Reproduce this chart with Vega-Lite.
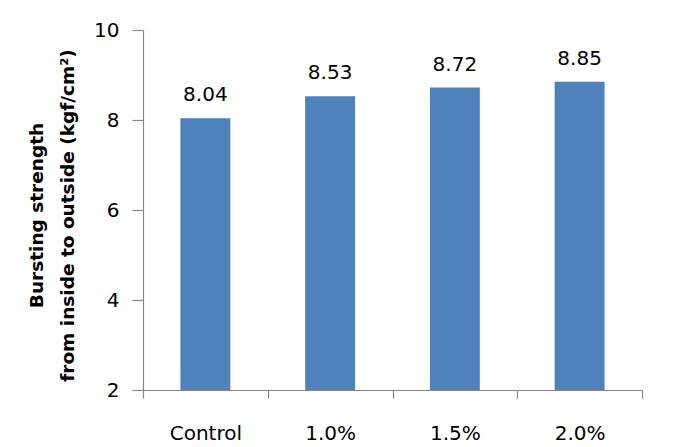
{
  "$schema": "https://vega.github.io/schema/vega-lite/v6.json",
  "width": 499,
  "height": 360,
  "autosize": "none",
  "padding": {"left": 143, "top": 30, "right": 44, "bottom": 57},
  "background": "white",
  "config": {"view": {"stroke": null}, "font": "DejaVu Sans"},
  "data": {"values": [
    {"group": "Control", "value": 8.04},
    {"group": "1.0%", "value": 8.53},
    {"group": "1.5%", "value": 8.72},
    {"group": "2.0%", "value": 8.85}
  ]},
  "encoding": {
    "x": {"field": "group", "type": "nominal", "sort": null,
      "scale": {"paddingInner": 0, "paddingOuter": 0},
      "axis": {"title": null, "labelAngle": 0, "labelFontSize": 20, "labelColor": "#000000",
        "labelPadding": 25, "domainColor": "#868686", "tickColor": "#868686", "tickSize": 8,
        "tickBand": "extent", "domainWidth": 1.2, "tickWidth": 1.2}},
    "y": {"field": "value", "type": "quantitative",
      "scale": {"domain": [2, 10], "nice": false, "zero": false},
      "axis": {"values": [2, 4, 6, 8, 10], "grid": false, "labelFontSize": 20, "labelColor": "#000000",
        "labelPadding": 13, "domainColor": "#868686", "tickColor": "#868686", "tickSize": 11,
        "domainWidth": 1.2, "tickWidth": 1.2,
        "title": ["Bursting strength", "from inside to outside (kgf/cm²)"],
        "titleFontSize": 18.5, "titleFontWeight": "bold", "titleColor": "#000000",
        "titleLineHeight": 31, "titleAngle": -90, "titleAlign": "center", "titleBaseline": "middle",
        "titleX": -107, "titleY": 185}}
  },
  "layer": [
    {"mark": {"type": "bar", "color": "#4F81BD", "width": {"band": 0.4}},
     "encoding": {"y2": {"datum": 2}}},
    {"mark": {"type": "text", "baseline": "alphabetic", "dy": -17, "fontSize": 20, "color": "#000000"},
     "encoding": {"text": {"field": "value", "type": "quantitative", "format": ".2f"}}}
  ]
}
